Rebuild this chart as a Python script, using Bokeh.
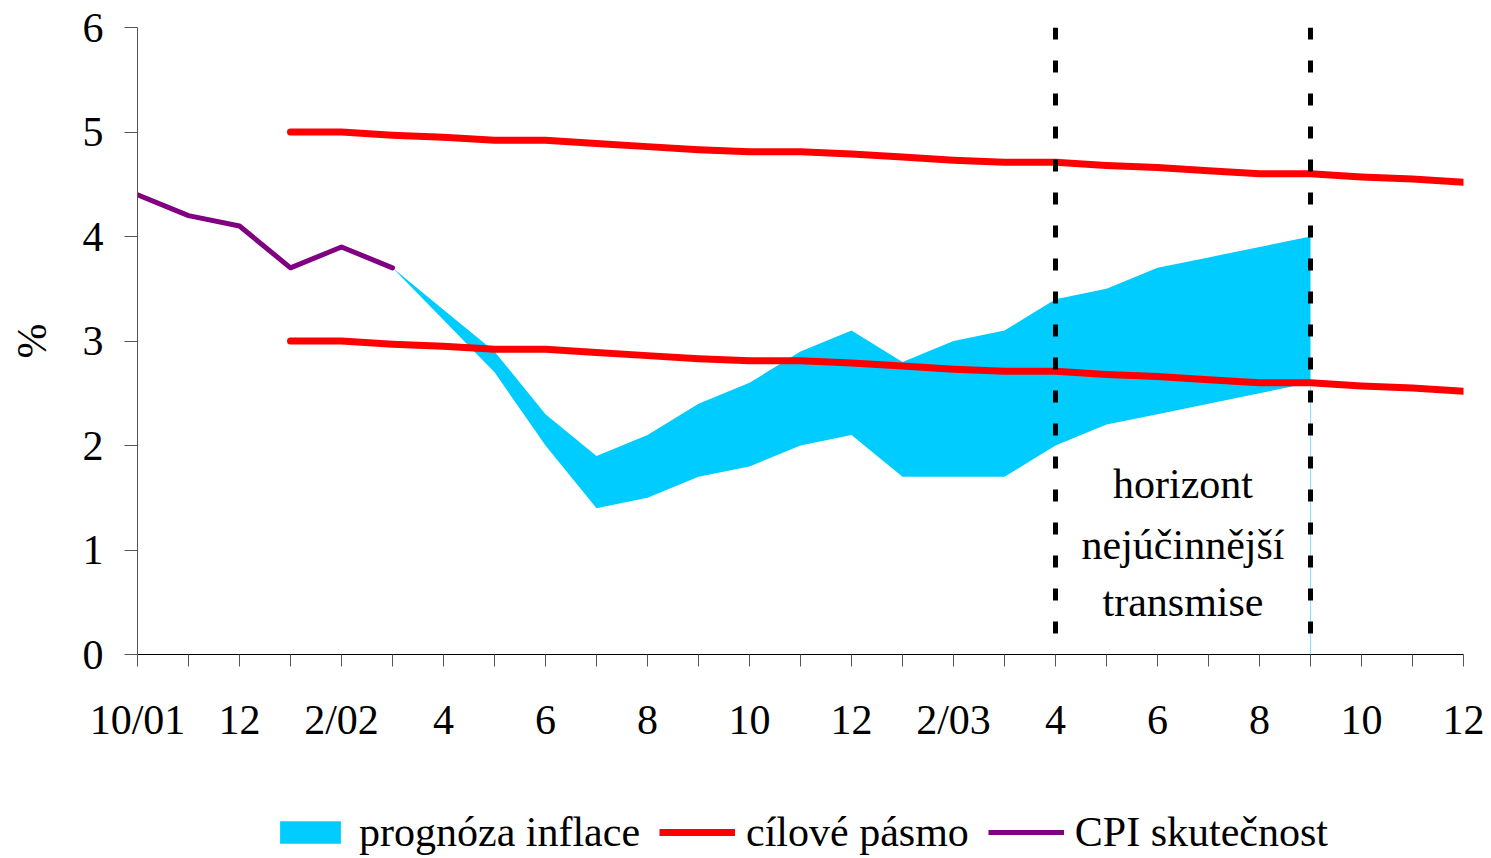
from bokeh.plotting import figure
from bokeh.layouts import column
from bokeh.models import FixedTicker, Legend, LegendItem, Range1d
from bokeh.core.properties import value
from bokeh.embed import file_html
from bokeh.resources import INLINE

FONT = "Liberation Serif"

# x axis: months 10/01 .. 12/03 (index 0..26)
tick_labels = ["10/01", "", "12", "", "2/02", "", "4", "", "6", "", "8", "", "10", "",
               "12", "", "2/03", "", "4", "", "6", "", "8", "", "10", "", "12"]
months = list(range(len(tick_labels)))

# CPI actual (10/01 .. 3/02)
cpi_months = [0, 1, 2, 3, 4, 5]
cpi_actual = [4.4, 4.2, 4.1, 3.7, 3.9, 3.7]

# inflation target band (1/02 .. 12/03)
band_months = list(range(3, 27))
band_upper = [5.00, 5.00, 4.97, 4.95, 4.92, 4.92, 4.89, 4.86, 4.83, 4.81, 4.81, 4.79,
              4.76, 4.73, 4.71, 4.71, 4.68, 4.66, 4.63, 4.60, 4.60, 4.57, 4.55, 4.52]
band_lower = [3.00, 3.00, 2.97, 2.95, 2.92, 2.92, 2.89, 2.86, 2.83, 2.81, 2.81, 2.79,
              2.76, 2.73, 2.71, 2.71, 2.68, 2.66, 2.63, 2.60, 2.60, 2.57, 2.55, 2.52]

# inflation forecast range (3/02 .. 9/03)
fc_months = list(range(5, 24))
fc_high = [3.7, 3.3, 2.9, 2.3, 1.9, 2.1, 2.4, 2.6, 2.9, 3.1, 2.8, 3.0, 3.1, 3.4, 3.5, 3.7, 3.8, 3.9, 4.0]
fc_low = [3.7, 3.2, 2.7, 2.0, 1.4, 1.5, 1.7, 1.8, 2.0, 2.1, 1.7, 1.7, 1.7, 2.0, 2.2, 2.3, 2.4, 2.5, 2.6]

# horizon of most effective transmission (4/03 and 9/03)
horizon = [18, 23]
horizon_text = ["horizont", "nejúčinnější", "transmise"]

legend_labels = ["prognóza inflace", "cílové pásmo", "CPI skutečnost"]

BAND_COLOR = "#00CCFF"
TARGET_COLOR = "#FF0000"
CPI_COLOR = "#800080"

p = figure(width=1491, height=790, output_backend="svg", toolbar_location=None,
           x_range=Range1d(0, 26), y_range=Range1d(0, 6),
           min_border_left=137, min_border_top=27, min_border_right=28, min_border_bottom=136)
p.outline_line_color = None
p.xgrid.grid_line_color = None
p.ygrid.grid_line_color = None
p.background_fill_color = "white"
p.border_fill_color = "white"

p.varea(x=fc_months, y1=fc_low, y2=fc_high, fill_color=BAND_COLOR)
p.segment(x0=[fc_months[-1]], y0=[0], x1=[fc_months[-1]], y1=[fc_low[-1]],
          line_color=BAND_COLOR, line_width=1, line_alpha=0.5)

p.line(band_months, band_upper, line_color=TARGET_COLOR, line_width=7, line_cap="round", line_join="round")
p.line(band_months, band_lower, line_color=TARGET_COLOR, line_width=7, line_cap="round", line_join="round")

p.line(cpi_months, cpi_actual, line_color=CPI_COLOR, line_width=5, line_cap="round", line_join="round")

p.segment(x0=horizon, y0=[6, 6], x1=horizon, y1=[0, 0], line_color="black",
          line_width=5, line_dash="12 21")

mid = sum(horizon) / 2
p.text(x=[mid] * 3, y=[1.63, 1.05, 0.50], text=horizon_text, text_align="center",
       text_baseline="middle", text_font=value(FONT), text_font_size="42px", text_color="black")

# axes
xa = p.xaxis[0]
xa.ticker = FixedTicker(ticks=months)
xa.major_label_overrides = {m: lab for m, lab in zip(months, tick_labels)}
xa.minor_tick_line_color = None
xa.major_tick_in = 0
xa.major_tick_out = 12
xa.axis_line_color = "black"
xa.major_tick_line_color = "#555555"
xa.major_label_standoff = 30
xa.major_label_text_font = FONT
xa.major_label_text_font_size = "42px"
xa.major_label_text_color = "black"

ya = p.yaxis[0]
ya.ticker = FixedTicker(ticks=[0, 1, 2, 3, 4, 5, 6])
ya.minor_tick_line_color = None
ya.major_tick_in = 0
ya.major_tick_out = 13
ya.axis_line_color = "#555555"
ya.major_tick_line_color = "#555555"
ya.major_label_standoff = 21
ya.major_label_text_font = FONT
ya.major_label_text_font_size = "42px"
ya.major_label_text_color = "black"
ya.axis_label = "%"
ya.axis_label_text_font = FONT
ya.axis_label_text_font_size = "42px"
ya.axis_label_text_font_style = "normal"
ya.axis_label_text_color = "black"
ya.axis_label_standoff = 25

# legend strip below the chart (its series lie outside the strip's visible range)
pl = figure(width=1491, height=68, output_backend="svg", toolbar_location=None,
            x_axis_type=None, y_axis_type=None, x_range=Range1d(100, 101), y_range=Range1d(0, 1),
            min_border=0)
pl.outline_line_color = None
pl.xgrid.grid_line_color = None
pl.ygrid.grid_line_color = None
l_band = pl.varea(x=fc_months, y1=fc_low, y2=fc_high, fill_color=BAND_COLOR)
l_target = pl.line(band_months, band_upper, line_color=TARGET_COLOR, line_width=7)
l_cpi = pl.line(cpi_months, cpi_actual, line_color=CPI_COLOR, line_width=5)

legend = Legend(items=[LegendItem(label=lab, renderers=[r])
                       for lab, r in zip(legend_labels, [l_band, l_target, l_cpi])],
                orientation="horizontal", location=(135, 2),
                glyph_width=76, glyph_height=28, label_standoff=11, spacing=19,
                padding=0, margin=0,
                label_text_font=FONT, label_text_font_size="42px", label_text_color="black",
                background_fill_alpha=0, border_line_alpha=0)
pl.add_layout(legend)

open("out.html", "w").write(file_html(column(p, pl, spacing=0), INLINE))
